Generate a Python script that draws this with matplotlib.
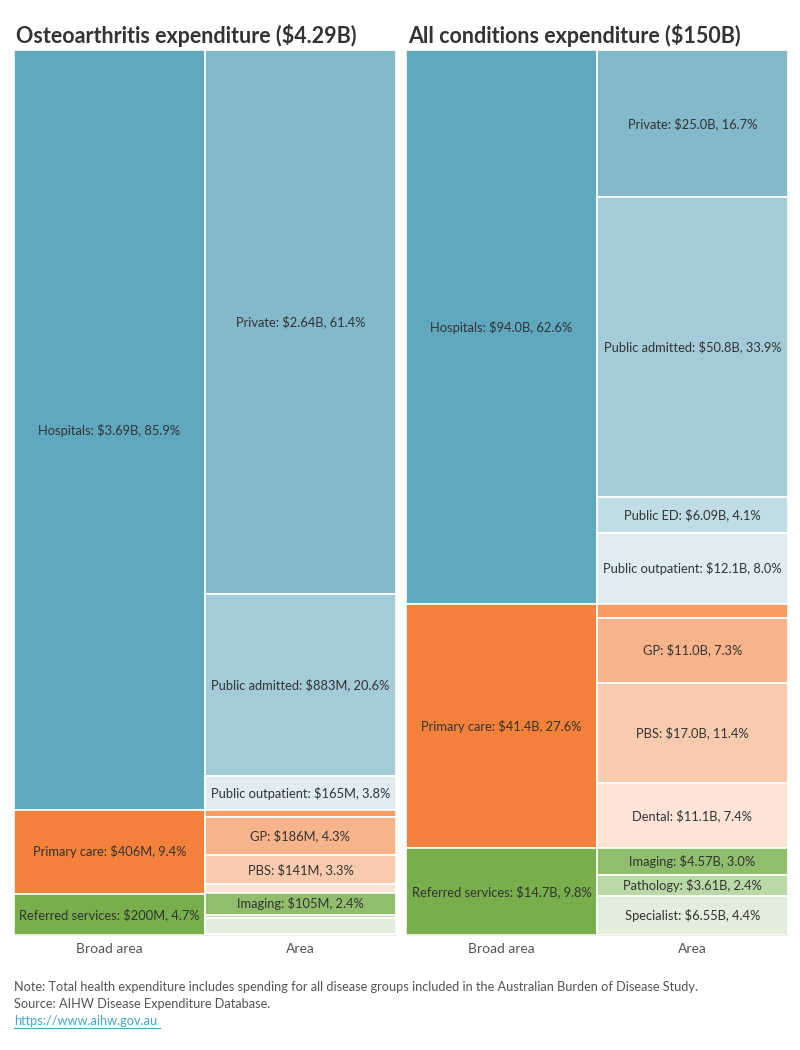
import matplotlib
matplotlib.use('Agg')
import matplotlib.pyplot as plt

plt.rcParams['font.family'] = ['Lato', 'DejaVu Sans']

# broad areas (values in $B)
broad_names = ['Hospitals', 'Primary care', 'Referred services']
broad_colors = ['#60a8bf', '#f3813b', '#78ae4b']

oa_broad = [3.69, 0.406, 0.200]
oa_broad_txt = ['$3.69B, 85.9%', '$406M, 9.4%', '$200M, 4.7%']
all_broad = [94.0, 41.4, 14.7]
all_broad_txt = ['$94.0B, 62.6%', '$41.4B, 27.6%', '$14.7B, 9.8%']

# areas, top to bottom
area_names = ['Private', 'Public admitted', 'Public ED', 'Public outpatient',
              'Other', 'GP', 'PBS', 'Dental',
              'Imaging', 'Pathology', 'Specialist']
area_colors = ['#83b9ca', '#a3cbd8', '#c0dde6', '#dfedf2',
               '#f69b62', '#f7b48a', '#f9cbae', '#fde4d7',
               '#91be6d', '#bbd9a6', '#e2eedb']

oa_area = [2.64, 0.883, 0.003, 0.165,
           0.030, 0.186, 0.141, 0.045,
           0.105, 0.015, 0.080]
oa_area_txt = ['$2.64B, 61.4%', '$883M, 20.6%', '', '$165M, 3.8%',
               '', '$186M, 4.3%', '$141M, 3.3%', '',
               '$105M, 2.4%', '', '']
all_area = [25.0, 50.8, 6.09, 12.1,
            2.3, 11.0, 17.0, 11.1,
            4.57, 3.61, 6.55]
all_area_txt = ['$25.0B, 16.7%', '$50.8B, 33.9%', '$6.09B, 4.1%', '$12.1B, 8.0%',
                '', '$11.0B, 7.3%', '$17.0B, 11.4%', '$11.1B, 7.4%',
                '$4.57B, 3.0%', '$3.61B, 2.4%', '$6.55B, 4.4%']

fig = plt.figure(figsize=(8, 10.5), dpi=100)


def panel(rect, title, broad, broad_txt, area, area_txt):
    ax = fig.add_axes(rect)
    total = sum(broad)
    # broad column
    bottom = 0
    for name, v, t, c in zip(broad_names, broad, broad_txt, broad_colors):
        ax.bar(0, v, bottom=bottom, width=1, color=c, edgecolor='white', linewidth=1.2)
        ax.text(0, bottom + v / 2, f'{name}: {t}', ha='center', va='center',
                fontsize=9.3, color='#333333')
        bottom += v
    # area column
    bottom = 0
    for name, v, t, c in zip(area_names, area, area_txt, area_colors):
        ax.bar(1, v, bottom=bottom, width=1, color=c, edgecolor='white', linewidth=1.2)
        if t:
            ax.text(1, bottom + v / 2, f'{name}: {t}', ha='center', va='center',
                    fontsize=9.3, color='#333333')
        bottom += v
    ax.set_xlim(-0.5, 1.5)
    ax.set_ylim(total, 0)
    ax.set_yticks([])
    ax.set_xticks([0, 1])
    ax.set_xticklabels(['Broad area', 'Area'], fontsize=10, color='#555555')
    ax.tick_params(axis='x', length=0, pad=6)
    for s in ['top', 'left', 'right']:
        ax.spines[s].set_visible(False)
    ax.spines['bottom'].set_color('#eeeeee')
    ax.set_title(title, loc='left', fontsize=15.5, fontweight='bold',
                 color='#333333', pad=5, x=0.005)
    return ax


b = 115 / 1050
h = 885 / 1050
panel([14 / 800, b, 382 / 800, h], 'Osteoarthritis expenditure ($4.29B)',
      oa_broad, oa_broad_txt, oa_area, oa_area_txt)
panel([406 / 800, b, 382 / 800, h], 'All conditions expenditure ($150B)',
      all_broad, all_broad_txt, all_area, all_area_txt)

fig.text(14 / 800, 1 - 987 / 1050,
         'Note: Total health expenditure includes spending for all disease groups '
         'included in the Australian Burden of Disease Study.',
         fontsize=9.2, color='#555555', va='center')
fig.text(14 / 800, 1 - 1004 / 1050, 'Source: AIHW Disease Expenditure Database.',
         fontsize=9.2, color='#555555', va='center')
fig.text(14 / 800, 1 - 1021 / 1050, 'https://www.aihw.gov.au',
         fontsize=9.2, color='#4aa3c8', va='center')
fig.add_artist(plt.Line2D([14 / 800, 160 / 800], [1 - 1028 / 1050] * 2,
                          color='#4aa3c8', linewidth=0.8))

fig.savefig('out.png', dpi=100)
